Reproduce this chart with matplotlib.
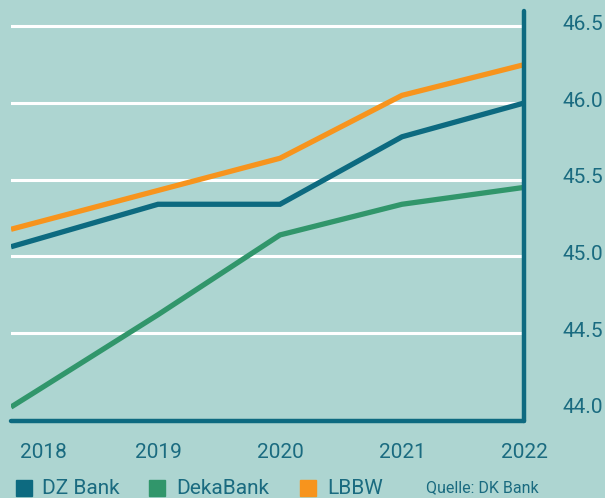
import matplotlib
matplotlib.use('Agg')
import matplotlib.pyplot as plt
from matplotlib.patches import Rectangle
import matplotlib.transforms as mtransforms

# ---------------- data ----------------
years = [2018, 2019, 2020, 2021, 2022]
year_labels = ['2018', '2019', '2020', '2021', '2022']
dz_bank = [45.11, 45.34, 45.34, 45.78, 46.00]
deka_bank = [44.12, 44.62, 45.14, 45.34, 45.45]
lbbw = [45.22, 45.43, 45.64, 46.05, 46.25]
# values where the lines enter the visible plot at its left edge
edge_year = 2017.795
edge_dz, edge_deka, edge_lbbw = 45.063, 44.018, 45.177

y_ticks = [44.0, 44.5, 45.0, 45.5, 46.0, 46.5]
y_labels = ['44.0', '44.5', '45.0', '45.5', '46.0', '46.5']
grid_values = [44.5, 45.0, 45.5, 46.0, 46.5]
series_names = ['DZ Bank', 'DekaBank', 'LBBW']
source = 'Quelle: DK Bank'

# ---------------- style ----------------
W, H = 605, 498
bg = '#add5d1'
c_dz = '#0d6a80'
c_deka = '#31966b'
c_lbbw = '#f7941d'
c_text = '#1a6b80'
plt.rcParams['font.family'] = ['Roboto', 'DejaVu Sans']

fig = plt.figure(figsize=(W / 100, H / 100), dpi=100, facecolor=bg)
ax = fig.add_axes([11 / W, 1 - 421 / H, (524 - 11) / W, (421 - 11) / H])
ax.set_facecolor(bg)

for gv in grid_values:
    ax.axhline(gv, color='white', lw=2.2, zorder=1)

for vals, edge, col in [(deka_bank, edge_deka, c_deka),
                        (dz_bank, edge_dz, c_dz),
                        (lbbw, edge_lbbw, c_lbbw)]:
    ax.plot([edge_year] + years, [edge] + vals, color=col, lw=3.8,
            solid_joinstyle='miter', solid_capstyle='butt', zorder=3)

ax.set_xlim(edge_year, 2022)
ax.set_ylim(43.927, 46.6)

for s in ['top', 'left']:
    ax.spines[s].set_visible(False)
for s in ['right', 'bottom']:
    ax.spines[s].set_color(c_dz)
    ax.spines[s].set_linewidth(3.2)
    ax.spines[s].set_capstyle('round')
    ax.spines[s].set_zorder(5)

ax.yaxis.tick_right()
ax.set_yticks(y_ticks)
ax.set_yticklabels(y_labels)
ax.tick_params(axis='y', length=0, pad=28, labelsize=15, labelcolor=c_text)
off = mtransforms.ScaledTranslation(0, 4 / 100, fig.dpi_scale_trans)
for lab in ax.get_yticklabels():
    lab.set_transform(lab.get_transform() + off)

ax.set_xticks(years)
ax.set_xticklabels(year_labels)
ax.tick_params(axis='x', length=0, pad=16, labelsize=15, labelcolor=c_text)
# first year label sits a little right of its point in the reference
ax.get_xticklabels()[0].set_transform(
    ax.get_xticklabels()[0].get_transform()
    + mtransforms.ScaledTranslation(7 / 100, 0, fig.dpi_scale_trans))

# ---------------- legend ----------------
leg_sq_x = [16, 149, 300]
leg_tx_x = [42, 176, 327]
for name, col, sx, tx in zip(series_names, [c_dz, c_deka, c_lbbw], leg_sq_x, leg_tx_x):
    fig.patches.append(Rectangle((sx / W, 1 - 496 / H), 16 / W, 16 / H,
                                 transform=fig.transFigure, color=col))
    fig.text(tx / W, 1 - 494 / H, name, fontsize=15, color=c_text, va='baseline', ha='left')
fig.text(426 / W, 1 - 492 / H, source, fontsize=11.5, color=c_text, va='baseline', ha='left')

fig.savefig('out.png', dpi=100, facecolor=bg)
